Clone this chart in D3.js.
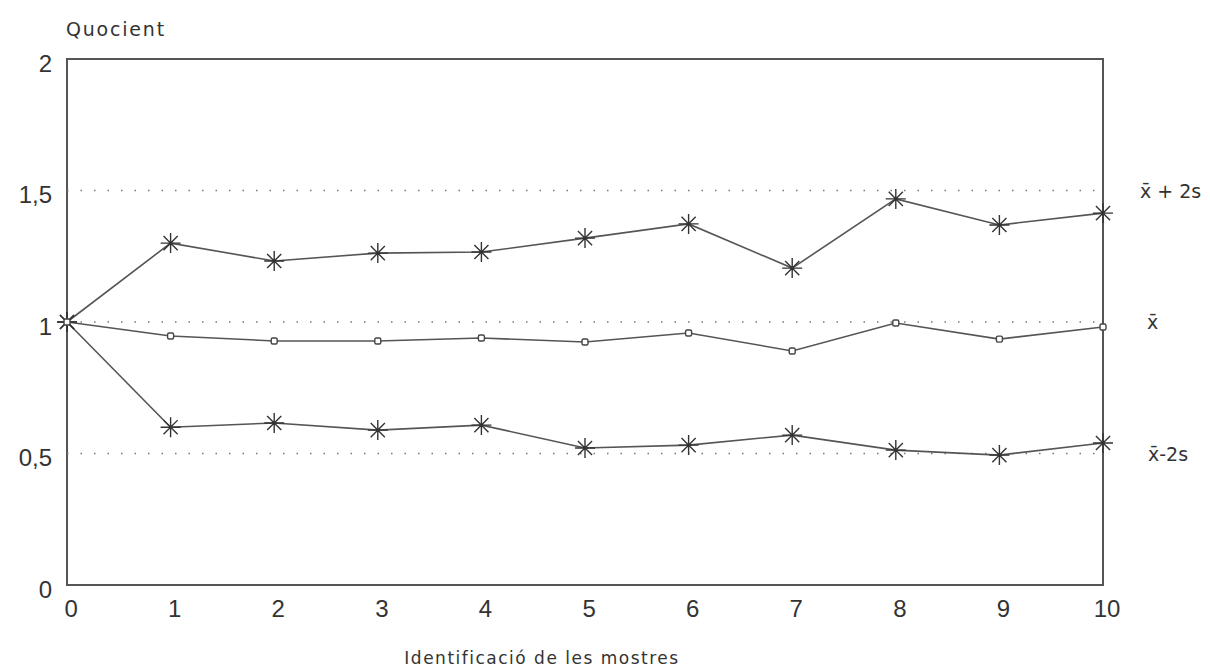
<!DOCTYPE html>
<html>
  <head>
    <meta charset="utf-8">
    <title></title>
  </head>
  <style>
  body{
      font-family: "Liberation Sans", "DejaVu Sans", sans-serif;
      background-color: #fff;
      margin:0;
      padding:0
    }
    .axis path { display: none; }
    .axis .tick line { opacity: 0 }
    .axis .tick text { fill: #333; font-size: 24px; font-family: "Liberation Sans", sans-serif }
    .label { font-family: "DejaVu Sans", sans-serif; fill: #333 }
  </style>
  <script src="https://d3js.org/d3.v7.min.js"></script>
  <body>
    <script>
    // sample ids
    const samples = [0, 1, 2, 3, 4, 5, 6, 7, 8, 9, 10]
    // series values
    const upper = [1.0, 1.30, 1.232, 1.262, 1.266, 1.319, 1.373, 1.205, 1.468, 1.369, 1.414]
    const mean  = [1.0, 0.947, 0.928, 0.928, 0.939, 0.924, 0.958, 0.89, 0.996, 0.935, 0.981]
    const lower = [1.0, 0.60, 0.616, 0.589, 0.608, 0.521, 0.532, 0.570, 0.513, 0.494, 0.540]
    // reference lines
    const refValues = [1.5, 1, 0.5]
    const refLabels = ["x̄ + 2s", "x̄", "x̄-2s"]
    const yTicks = [0, 0.5, 1, 1.5, 2]

    var W = 1210, H = 672
    var padding = { left: 67, top: 59, right: 107, bottom: 87 }
    var width = W - padding.left - padding.right
    var height = H - padding.top - padding.bottom

    var svg = d3.select("body").append("svg")
                .attr("width", W).attr("height", H)
    var g = svg.append("g")
               .attr("transform", "translate(" + padding.left + "," + padding.top + ")")

    let xScale = d3.scaleLinear().domain([0, 10]).range([0, width])
    let yScale = d3.scaleLinear().domain([0, 2]).range([height, 0])

    // y axis labels
    g.append("g").attr("class", "axis")
      .attr("transform", "translate(-12,0)")
      .call(d3.axisLeft(yScale).tickValues(yTicks).tickSize(0)
            .tickFormat(function(d){ return String(d).replace(".", ",") }))
      .selectAll(".tick text").attr("dy", "0.5em")

    // x axis labels
    g.append("g").attr("class", "axis")
      .attr("transform", "translate(0," + height + ")")
      .call(d3.axisBottom(xScale).tickValues(samples).tickSize(0).tickFormat(d3.format("d")))
      .selectAll(".tick text").attr("dy", "1.2em").attr("dx", "0.15em")

    // frame
    g.append("rect")
      .attr("x", 0).attr("y", 0)
      .attr("width", width).attr("height", height)
      .attr("fill", "none").attr("stroke", "#555").attr("stroke-width", 2)

    // dotted reference lines
    g.append("g").selectAll("line")
      .data(refValues).enter().append("line")
      .attr("x1", 0).attr("x2", width)
      .attr("y1", function(d){ return yScale(d) })
      .attr("y2", function(d){ return yScale(d) })
      .attr("stroke", "#777").attr("stroke-width", 1.5)
      .attr("stroke-dasharray", "1.5,12")

    // reference labels, offset from the right edge of the frame
    var labelX = [37, 44, 45]
    g.append("g").selectAll("text")
      .data(refValues).enter().append("text")
      .attr("class", "label")
      .attr("x", function(d, i){ return width + labelX[i] })
      .attr("y", function(d){ return yScale(d) + 7 })
      .attr("font-size", "19px")
      .text(function(d, i){ return refLabels[i] })

    var linePath = d3.line()
                     .x(function(d, i){ return xScale(samples[i]) })
                     .y(function(d){ return yScale(d) })

    var series = [upper, mean, lower]
    g.append("g").selectAll("path")
      .data(series).enter().append("path")
      .attr("d", function(d){ return linePath(d) })
      .attr("fill", "none").attr("stroke", "#555").attr("stroke-width", 1.6)

    // asterisk markers
    function star(cx, cy, r){
      var p = ""
      for (var k = 0; k < 4; k++) {
        var a = k * Math.PI / 4
        var dx = r * Math.sin(a), dy = r * Math.cos(a)
        p += "M" + (cx - dx) + "," + (cy - dy) + "L" + (cx + dx) + "," + (cy + dy)
      }
      return p
    }
    ;[upper, lower].forEach(function(s){
      g.append("g").selectAll("path")
        .data(s).enter().append("path")
        .attr("d", function(d, i){ return star(xScale(samples[i]), yScale(d), 10) })
        .attr("stroke", "#333").attr("stroke-width", 1.4)
    })

    // square markers for the mean
    g.append("g").selectAll("rect")
      .data(mean).enter().append("rect")
      .attr("x", function(d, i){ return xScale(samples[i]) - 3 })
      .attr("y", function(d){ return yScale(d) - 3 })
      .attr("width", 6).attr("height", 6).attr("rx", 1.5)
      .attr("fill", "#fff").attr("stroke", "#444").attr("stroke-width", 1.4)

    // axis titles
    svg.append("text")
      .attr("class", "label")
      .attr("x", 66).attr("y", 36)
      .attr("font-size", "19px").attr("letter-spacing", "1.8px")
      .text("Quocient")

    svg.append("text")
      .attr("class", "label")
      .attr("x", 542).attr("y", 664)
      .attr("text-anchor", "middle")
      .attr("font-size", "17px").attr("letter-spacing", "1.5px")
      .text("Identificació de les mostres")
    </script>
  </body>
</html>
